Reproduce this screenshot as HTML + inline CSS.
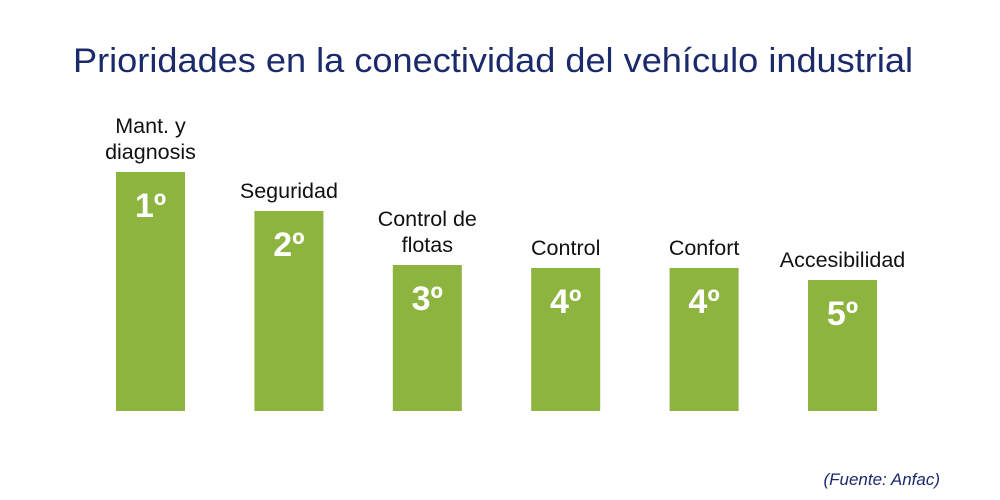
<!DOCTYPE html>
<html><head><meta charset="utf-8"><style>
body{margin:0;background:#fff;}
#c{position:relative;width:1000px;height:500px;overflow:hidden;font-family:"Liberation Sans",sans-serif;}
</style></head><body>
<div id="c">
<svg id="s" width="1000" height="500">
<text x="73" y="72" font-size="34" textLength="840" lengthAdjust="spacingAndGlyphs" fill="#1b2a6b" font-family="Liberation Sans, sans-serif">Prioridades en la conectividad del vehículo industrial</text>
<text x="940" y="485" text-anchor="end" font-size="17" font-style="italic" fill="#1b2a6b" font-family="Liberation Sans, sans-serif">(Fuente: Anfac)</text>
</svg>
</div>
<script>
const categories=[["Mant. y","diagnosis"],["Seguridad"],["Control de","flotas"],["Control"],["Confort"],["Accesibilidad"]];
const values=[239,200,146,143,143,131];
const ranks=["1º","2º","3º","4º","4º","5º"];
const svg=document.getElementById('s');
const NS="http://www.w3.org/2000/svg";
const baseY=411, x0=116, step=138.4, bw=69;
function yScale(v){return baseY-v;}
function xScale(i){return x0+i*step;}
values.forEach((v,i)=>{
  const x=xScale(i), y=yScale(v);
  const r=document.createElementNS(NS,'rect');
  r.setAttribute('x',x);r.setAttribute('y',y);r.setAttribute('width',bw);r.setAttribute('height',baseY-y);r.setAttribute('fill','#8db43e');
  
  
  svg.appendChild(r);
  const t=document.createElementNS(NS,'text');
  t.setAttribute('x',x+bw/2);t.setAttribute('y',y+45);t.setAttribute('text-anchor','middle');
  t.setAttribute('font-size','34');t.setAttribute('font-weight','bold');t.setAttribute('fill','#fff');
  t.textContent=ranks[i];
  
  
  svg.appendChild(t);
  const lines=categories[i];
  lines.forEach((ln,j)=>{
    const c=document.createElementNS(NS,'text');
    c.setAttribute('x',x+bw/2);
    c.setAttribute('y',y-13-(lines.length-1-j)*26);
    c.setAttribute('text-anchor','middle');c.setAttribute('font-size','21.5');c.setAttribute('fill','#111');
    c.textContent=ln;
    
    
    svg.appendChild(c);
  });
});
</script>
</body></html>
